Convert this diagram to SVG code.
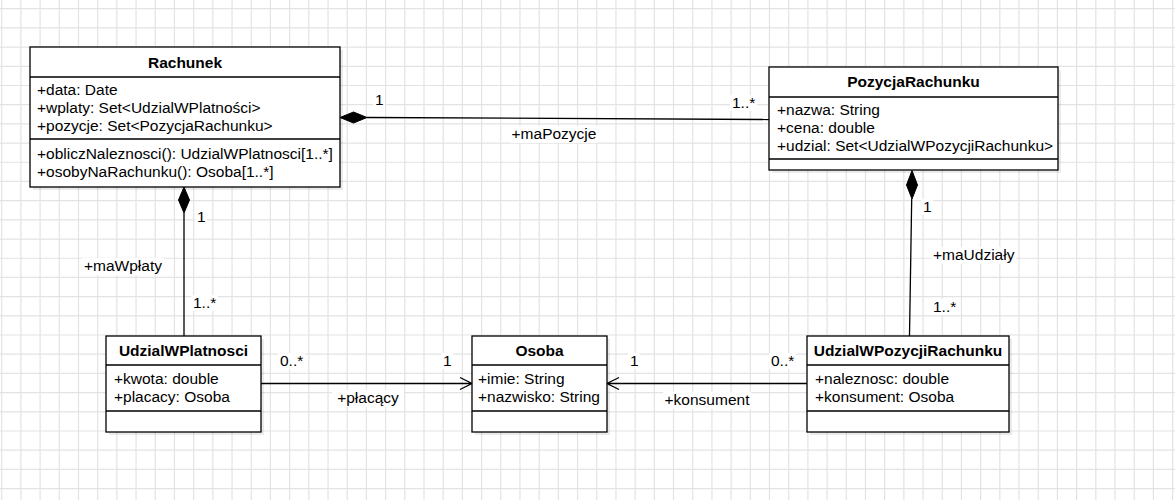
<svg xmlns="http://www.w3.org/2000/svg" width="1175" height="500" viewBox="0 0 1175 500">
<style>
text{font-family:"Liberation Sans",Arial,sans-serif;font-size:15.5px;fill:#000}
.t{font-weight:bold;text-anchor:middle}
.m{text-anchor:middle}
.box{fill:#fff;stroke:#000;stroke-width:1.3}
.sh{fill:#000;opacity:0.08}
.sep{stroke:#000;stroke-width:1.3;fill:none}
.ln{stroke:#000;stroke-width:1.3;fill:none}
.dia{fill:#000;stroke:#000;stroke-width:1}
.lb{fill:#fff}
.grid{stroke:#e3e3e3;stroke-width:1.2;fill:none}
</style>
<rect width="1175" height="500" fill="#fff"/>
<path class="grid" d="M1.7 0V500M20.9 0V500M40.09 0V500M59.29 0V500M78.48 0V500M97.68 0V500M116.87 0V500M136.07 0V500M155.26 0V500M174.46 0V500M193.65 0V500M212.85 0V500M232.04 0V500M251.24 0V500M270.43 0V500M289.63 0V500M308.82 0V500M328.02 0V500M347.21 0V500M366.41 0V500M385.6 0V500M404.8 0V500M423.99 0V500M443.19 0V500M462.38 0V500M481.58 0V500M500.77 0V500M519.97 0V500M539.16 0V500M558.36 0V500M577.55 0V500M596.75 0V500M615.94 0V500M635.14 0V500M654.33 0V500M673.53 0V500M692.72 0V500M711.92 0V500M731.11 0V500M750.31 0V500M769.5 0V500M788.7 0V500M807.89 0V500M827.09 0V500M846.28 0V500M865.48 0V500M884.67 0V500M903.87 0V500M923.06 0V500M942.26 0V500M961.45 0V500M980.65 0V500M999.84 0V500M1019.04 0V500M1038.23 0V500M1057.43 0V500M1076.62 0V500M1095.82 0V500M1115.01 0V500M1134.21 0V500M1153.4 0V500M1172.6 0V500M0 8.7H1175M0 27.9H1175M0 47.09H1175M0 66.29H1175M0 85.48H1175M0 104.68H1175M0 123.87H1175M0 143.07H1175M0 162.26H1175M0 181.46H1175M0 200.65H1175M0 219.85H1175M0 239.04H1175M0 258.24H1175M0 277.43H1175M0 296.63H1175M0 315.82H1175M0 335.02H1175M0 354.21H1175M0 373.41H1175M0 392.6H1175M0 411.8H1175M0 430.99H1175M0 450.19H1175M0 469.38H1175M0 488.58H1175"/>

<g id="connectors">
  <g id="e-maPozycje">
    <path class="ln" d="M367 117.5L769 119.5"/>
    <path class="dia" d="M340 117.5L353.5 112L367 117.5L353.5 123Z"/>
    <rect class="lb" x="373" y="92" width="12" height="16"/>
    <text x="375" y="105">1</text>
    <rect class="lb" x="730" y="95" width="27" height="16"/>
    <text x="732" y="108">1..*</text>
    <rect class="lb" x="510" y="126" width="88" height="17"/>
    <text class="m" x="554" y="139">+maPozycje</text>
  </g>
  <g id="e-maWplaty">
    <path class="ln" d="M184 213V336"/>
    <path class="dia" d="M184 187L189.5 200L184 213L178.5 200Z"/>
    <rect class="lb" x="195" y="209" width="12" height="16"/>
    <text x="197" y="222">1</text>
    <rect class="lb" x="82" y="258" width="82" height="17"/>
    <text class="m" x="123" y="271">+maWpłaty</text>
    <rect class="lb" x="191" y="295" width="27" height="16"/>
    <text x="193" y="308">1..*</text>
  </g>
  <g id="e-maUdzialy">
    <path class="ln" d="M911.7 199L909.5 336"/>
    <path class="dia" d="M912 170.5L917.5 185L912 199L906.5 185Z"/>
    <rect class="lb" x="921" y="199" width="12" height="16"/>
    <text x="923" y="212">1</text>
    <rect class="lb" x="931" y="247" width="85" height="17"/>
    <text x="933" y="260">+maUdziały</text>
    <rect class="lb" x="931" y="299" width="27" height="16"/>
    <text x="933" y="312">1..*</text>
  </g>
  <g id="e-placacy">
    <path class="ln" d="M261 383.5H472M460 377.5L472 383.5L460 389.5"/>
    <rect class="lb" x="278" y="353" width="27" height="16"/>
    <text x="280" y="366">0..*</text>
    <rect class="lb" x="441" y="353" width="12" height="16"/>
    <text x="443" y="366">1</text>
    <rect class="lb" x="332" y="390" width="72" height="17"/>
    <text class="m" x="368" y="403">+płacący</text>
  </g>
  <g id="e-konsument">
    <path class="ln" d="M807 383.5H607M619 377.5L607 383.5L619 389.5"/>
    <rect class="lb" x="628" y="353" width="12" height="16"/>
    <text x="630" y="366">1</text>
    <rect class="lb" x="769" y="353" width="27" height="16"/>
    <text x="771" y="366">0..*</text>
    <rect class="lb" x="663" y="392" width="88" height="17"/>
    <text class="m" x="707" y="405">+konsument</text>
  </g>
</g>

<g id="Rachunek">
  <rect class="sh" x="33" y="50" width="310" height="140"/>
  <rect class="box" x="30" y="47" width="310" height="140"/>
  <path class="sep" d="M30 77H340M30 139H340"/>
  <text class="t" x="185" y="68">Rachunek</text>
  <text x="37" y="95">+data: Date</text>
  <text x="37" y="113">+wplaty: Set&lt;UdzialWPlatności&gt;</text>
  <text x="37" y="131">+pozycje: Set&lt;PozycjaRachunku&gt;</text>
  <text x="37" y="159">+obliczNaleznosci(): UdzialWPlatnosci[1..*]</text>
  <text x="37" y="177">+osobyNaRachunku(): Osoba[1..*]</text>
</g>

<g id="PozycjaRachunku">
  <rect class="sh" x="772" y="70" width="289" height="103"/>
  <rect class="box" x="769" y="67" width="289" height="103"/>
  <path class="sep" d="M769 97H1058M769 159H1058"/>
  <text class="t" x="913.5" y="87">PozycjaRachunku</text>
  <text x="777" y="115">+nazwa: String</text>
  <text x="777" y="133">+cena: double</text>
  <text x="777" y="151">+udzial: Set&lt;UdzialWPozycjiRachunku&gt;</text>
</g>

<g id="UdzialWPlatnosci">
  <rect class="sh" x="109" y="339" width="155" height="96"/>
  <rect class="box" x="106" y="336" width="155" height="96"/>
  <path class="sep" d="M106 365H261M106 411H261"/>
  <text class="t" x="183.5" y="356">UdzialWPlatnosci</text>
  <text x="114" y="384">+kwota: double</text>
  <text x="114" y="402">+placacy: Osoba</text>
</g>

<g id="Osoba">
  <rect class="sh" x="475" y="339" width="135" height="96"/>
  <rect class="box" x="472" y="336" width="135" height="96"/>
  <path class="sep" d="M472 365H607M472 411H607"/>
  <text class="t" x="539.5" y="356">Osoba</text>
  <text x="478" y="384">+imie: String</text>
  <text x="478" y="402">+nazwisko: String</text>
</g>

<g id="UdzialWPozycjiRachunku">
  <rect class="sh" x="810" y="339" width="202" height="96"/>
  <rect class="box" x="807" y="336" width="202" height="96"/>
  <path class="sep" d="M807 365H1009M807 411H1009"/>
  <text class="t" x="908" y="356">UdzialWPozycjiRachunku</text>
  <text x="815" y="384">+naleznosc: double</text>
  <text x="815" y="402">+konsument: Osoba</text>
</g>
</svg>
